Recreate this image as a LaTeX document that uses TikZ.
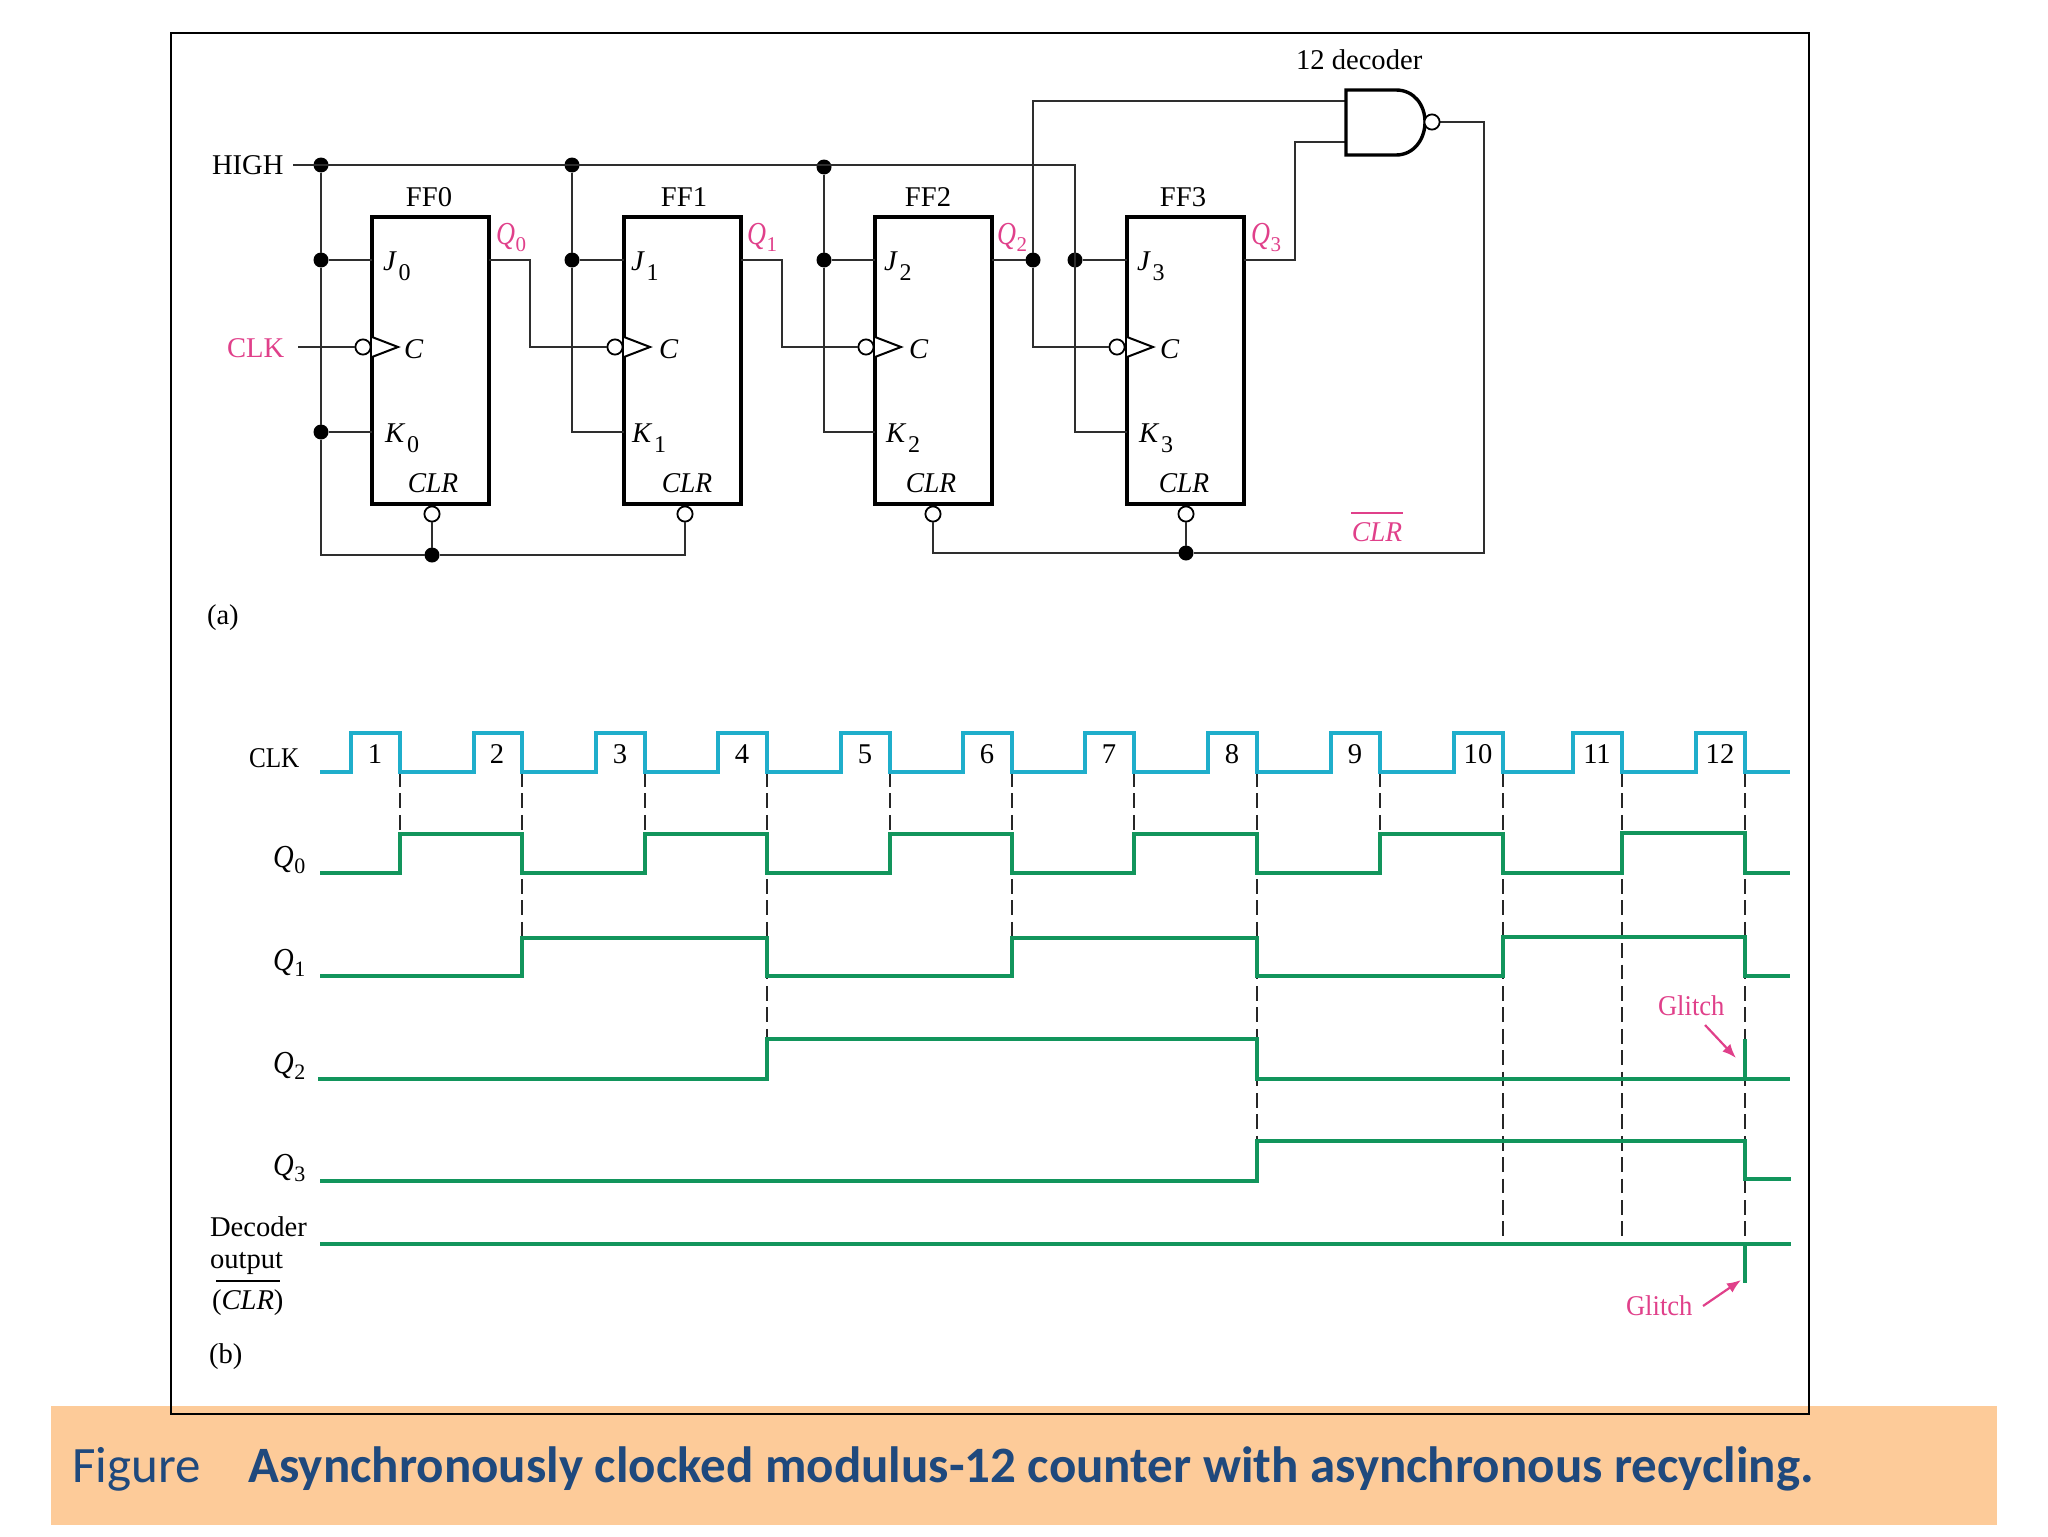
\documentclass[tikz,border=0pt]{standalone}
\usepackage{fontspec}
\setmainfont{Liberation Serif}
\newfontfamily\capfont{Carlito}
\usetikzlibrary{arrows.meta}
\definecolor{wire}{HTML}{2E2E2E}
\definecolor{pinkl}{HTML}{E0408A}
\definecolor{cyanw}{HTML}{1FAECB}
\definecolor{greenw}{HTML}{12955C}
\definecolor{bandc}{HTML}{FDCB99}
\definecolor{capc}{HTML}{1F497D}
\newcommand{\qsub}[2]{\scalebox{0.92}[1.12]{\itshape #1}\kern0.3pt\raisebox{-3.5pt}{\fontsize{10.5}{10.5}\selectfont #2}}
\newcommand{\tqsub}[2]{\scalebox{1}[1.12]{\itshape #1}\kern0.3pt\raisebox{-3.2pt}{\fontsize{11}{11}\selectfont #2}}
\newcommand{\jsub}[2]{{\itshape #1}\kern1.5pt\raisebox{-5pt}{\fontsize{12}{12}\selectfont #2}}
\tikzset{
  txt/.style={inner sep=0pt,outer sep=0pt,anchor=base west,font=\fontsize{14.3}{14.3}\selectfont,text=black},
  txtc/.style={txt,anchor=base},
  pnk/.style={text=pinkl},
  wr/.style={draw=wire,line width=1.05pt,line join=miter},
  ff/.style={draw=black,line width=1.7pt,rectangle,inner sep=0pt,outer sep=0pt,minimum width=58.5pt,minimum height=143.5pt,anchor=north west},
  dot/.style={circle,fill=black,inner sep=0pt,outer sep=0pt,minimum size=7.5pt},
  bub/.style={circle,draw=black,fill=white,line width=0.9pt,inner sep=0pt,outer sep=0pt,minimum size=7.6pt},
  clktri/.style={draw=black,line width=1pt,fill=white,line join=miter},
  ckw/.style={draw=cyanw,line width=1.7pt,line join=miter},
  gw/.style={draw=greenw,line width=1.6pt,line join=miter},
  dsh/.style={draw=black!85,line width=0.85pt,dash pattern=on 7.4pt off 3.3pt},
  parrow/.style={draw=pinkl,line width=1.1pt,-{Latex[length=7pt,width=5.5pt]}},
}
\begin{document}
\begin{tikzpicture}[x=0.5pt,y=-0.5pt]
\useasboundingbox (0,0) rectangle (2048,1536);
% caption band and frame
\fill[bandc] (51,1406) rectangle (1997,1525);
\draw[black,line width=1.2pt] (171,33) rectangle (1809,1414);
\node[inner sep=0pt,anchor=base west,font=\capfont\fontsize{25.5}{25.5}\selectfont,text=capc] (capa) at (72,1482) {Figure};
\node[inner sep=0pt,anchor=base west,font=\capfont\bfseries\fontsize{25.5}{25.5}\selectfont,text=capc] (capb) at (248,1482) {Asynchronously clocked modulus-12 counter with asynchronous recycling.};

% flip-flops
\node[ff] (ff0) at (372,217) {};
\node[ff] (ff1) at (624,217) {};
\node[ff] (ff2) at (875,217) {};
\node[ff] (ff3) at (1127,217) {};

% clock triangles
\foreach \i/\xx in {0/372,1/624,2/875,3/1127}{
  \coordinate (tb\i) at (\xx,337);
  \coordinate (tt\i) at (\xx+26,347);
  \coordinate (tc\i) at (\xx,357);
  \draw[clktri] (tb\i) -- (tt\i) -- (tc\i);
}

% junctions and bubbles
\coordinate (hs) at (293,165);
\node[dot] (d0) at (321,165) {};
\node[dot] (d1) at (572,165) {};
\node[dot] (d2) at (824,167) {};
\coordinate (hc) at (1075,165);
\node[dot] (j0) at (321,260) {};
\node[dot] (j1) at (572,260) {};
\node[dot] (j2) at (824,260) {};
\node[dot] (q2d) at (1033,260) {};
\node[dot] (j3) at (1075,260) {};
\node[dot] (k0) at (321,432) {};
\coordinate (k1) at (572,432);
\coordinate (k2) at (824,432);
\coordinate (k3) at (1075,432);
\node[dot] (cl) at (432,555) {};
\node[dot] (cr) at (1186,553) {};
\coordinate (bl) at (321,555);
\coordinate (bm) at (685,555);
\coordinate (bn) at (933,553);
\coordinate (brt) at (1484,553);
\coordinate (brr) at (1484,122);
\coordinate (cks) at (298,347);
\coordinate (q0o) at (530,260);
\coordinate (q0c) at (530,347);
\coordinate (q1o) at (782,260);
\coordinate (q1c) at (782,347);
\coordinate (q2c) at (1033,347);
\coordinate (q2t) at (1033,101);
\coordinate (ga) at (1346,101);
\coordinate (gb) at (1346,142);
\coordinate (q3o) at (1295,260);
\coordinate (q3t) at (1295,142);
\node[bub] (c0) at (363,347) {};
\node[bub] (c1) at (615,347) {};
\node[bub] (c2) at (866,347) {};
\node[bub] (c3) at (1117,347) {};
\node[bub] (r0) at (432,514) {};
\node[bub] (r1) at (685,514) {};
\node[bub] (r2) at (933,514) {};
\node[bub] (r3) at (1186,514) {};

% wires
\draw[wr] (hs) -- (hc) -- (k3) -- (ff3.west |- k3);
\draw[wr] (d0) -- (j0) -- (k0) -- (bl) -- (cl) -- (bm) -- (r1);
\draw[wr] (cl) -- (r0);
\draw[wr] (j0) -- (ff0.west |- j0) (k0) -- (ff0.west |- k0);
\draw[wr] (d1) -- (j1) -- (k1) -- (ff1.west |- k1) (j1) -- (ff1.west |- j1);
\draw[wr] (d2) -- (j2) -- (k2) -- (ff2.west |- k2) (j2) -- (ff2.west |- j2);
\draw[wr] (j3) -- (ff3.west |- j3);
\draw[wr] (cks) -- (c0);
\draw[wr] (ff0.east |- q0o) -- (q0o) -- (q0c) -- (c1);
\draw[wr] (ff1.east |- q1o) -- (q1o) -- (q1c) -- (c2);
\draw[wr] (ff2.east |- q2d) -- (q2d) -- (q2c) -- (c3);
\draw[wr] (q2d) -- (q2t) -- (ga);
\draw[wr] (ff3.east |- q3o) -- (q3o) -- (q3t) -- (gb);
\draw[wr] (r2) -- (bn) -- (cr) -- (brt) -- (brr) -- (1432,122);
\draw[wr] (cr) -- (r3);

% NAND gate
\draw[black,line width=1.7pt,fill=white,line join=miter] (1346,90) -- (1396,90) .. controls (1414,90) and (1425,105) .. (1425,122) .. controls (1425,139) and (1414,155) .. (1396,155) -- (1346,155) -- cycle;
\node[bub] (gbub) at (1432,122) {};

% upper labels
\node[txt] (lhigh) at (212,174) {HIGH};
\node[txt,pnk] (lclk) at (227,357) {CLK};
\node[txtc] (f0) at (429,206) {FF0};
\node[txtc] (f1) at (684,206) {FF1};
\node[txtc] (f2) at (928,206) {FF2};
\node[txtc] (f3) at (1183,206) {FF3};
\node[txt,pnk] (q0l) at (496,244) {\qsub{Q}{0}};
\node[txt,pnk] (q1l) at (747,244) {\qsub{Q}{1}};
\node[txt,pnk] (q2l) at (997,244) {\qsub{Q}{2}};
\node[txt,pnk] (q3l) at (1251,244) {\qsub{Q}{3}};
\node[txt] (lj0) at (383,270) {\jsub{J}{0}};
\node[txt] (lj1) at (631,270) {\jsub{J}{1}};
\node[txt] (lj2) at (884,270) {\jsub{J}{2}};
\node[txt] (lj3) at (1137,270) {\jsub{J}{3}};
\node[txt] (lk0) at (385,442) {\jsub{K}{0}};
\node[txt] (lk1) at (632,442) {\jsub{K}{1}};
\node[txt] (lk2) at (886,442) {\jsub{K}{2}};
\node[txt] (lk3) at (1139,442) {\jsub{K}{3}};
\node[txt] (lc0) at (404,358) {\itshape C};
\node[txt] (lc1) at (659,358) {\itshape C};
\node[txt] (lc2) at (909,358) {\itshape C};
\node[txt] (lc3) at (1160,358) {\itshape C};
\node[txtc] (lr0) at (433,492) {\scalebox{0.96}[1]{\itshape CLR}};
\node[txtc] (lr1) at (687,492) {\scalebox{0.96}[1]{\itshape CLR}};
\node[txtc] (lr2) at (931,492) {\scalebox{0.96}[1]{\itshape CLR}};
\node[txtc] (lr3) at (1184,492) {\scalebox{0.96}[1]{\itshape CLR}};
\node[txt] (ldec) at (1296,70) {12 decoder};
\node[txtc,pnk] (lclrb) at (1377,541) {\scalebox{0.96}[1]{\itshape CLR}};
\draw[pinkl,line width=1pt] (1351,513) -- (1403,513);
\node[txt] (la) at (207,624) {(a)};

% dashed guides
\foreach \i/\f/\e in {1/400/834,2/522/938,3/645/834,4/767/1039,5/890/834,6/1012/938,7/1134/834,8/1257/1141,9/1380/834,10/1503/1238,11/1622/1238,12/1745/1244}{
  \coordinate (ds\i) at (\f,772);
  \coordinate (de\i) at (\f,\e);
  \draw[dsh] (ds\i) -- (de\i);
  \node[txtc] (n\i) at (\f-25,763) {\i};
}

% waveforms
\draw[ckw] (320,772) -- (351,772) -- (351,733) -- (400,733) -- (400,772)
 -- (474,772) -- (474,733) -- (522,733) -- (522,772)
 -- (596,772) -- (596,733) -- (645,733) -- (645,772)
 -- (718,772) -- (718,733) -- (767,733) -- (767,772)
 -- (841,772) -- (841,733) -- (890,733) -- (890,772)
 -- (963,772) -- (963,733) -- (1012,733) -- (1012,772)
 -- (1085,772) -- (1085,733) -- (1134,733) -- (1134,772)
 -- (1208,772) -- (1208,733) -- (1257,733) -- (1257,772)
 -- (1331,772) -- (1331,733) -- (1380,733) -- (1380,772)
 -- (1454,772) -- (1454,733) -- (1503,733) -- (1503,772)
 -- (1573,772) -- (1573,733) -- (1622,733) -- (1622,772)
 -- (1696,772) -- (1696,733) -- (1745,733) -- (1745,772) -- (1790,772);
\draw[gw] (320,873) -- (400,873) -- (400,834) -- (522,834) -- (522,873) -- (645,873) -- (645,834) -- (767,834) -- (767,873) -- (890,873) -- (890,834) -- (1012,834) -- (1012,873) -- (1134,873) -- (1134,834) -- (1257,834) -- (1257,873) -- (1380,873) -- (1380,834) -- (1503,834) -- (1503,873) -- (1622,873) -- (1622,833) -- (1745,833) -- (1745,873) -- (1790,873);
\draw[gw] (320,976) -- (522,976) -- (522,938) -- (767,938) -- (767,976) -- (1012,976) -- (1012,938) -- (1257,938) -- (1257,976) -- (1503,976) -- (1503,937) -- (1745,937) -- (1745,976) -- (1790,976);
\draw[gw] (318,1079) -- (767,1079) -- (767,1039) -- (1257,1039) -- (1257,1079) -- (1790,1079);
\draw[gw] (1745,1039) -- (1745,1079);
\draw[gw] (320,1181) -- (1257,1181) -- (1257,1141) -- (1745,1141) -- (1745,1179) -- (1791,1179);
\draw[gw] (320,1244) -- (1791,1244);
\draw[gw] (1745,1244) -- (1745,1283);

% timing labels
\node[txt] (tclk) at (249,767) {\scalebox{0.88}[1]{CLK}};
\node[txt] (tq0) at (273,867) {\tqsub{Q}{0}};
\node[txt] (tq1) at (273,970) {\tqsub{Q}{1}};
\node[txt] (tq2) at (273,1073) {\tqsub{Q}{2}};
\node[txt] (tq3) at (273,1175) {\tqsub{Q}{3}};
\node[txt] (tdec) at (210,1236) {Decoder};
\node[txt] (tout) at (210,1268) {output};
\node[txt] (tclr) at (212,1309) {(\textit{CLR})};
\draw[black,line width=1pt] (216,1281) -- (280,1281);
\node[txt] (lb) at (209,1363) {(b)};

% glitch annotations
\node[txt,pnk] (g1) at (1658,1015) {\scalebox{0.93}[1]{Glitch}};
\node[txt,pnk] (g2) at (1626,1315) {\scalebox{0.93}[1]{Glitch}};
\coordinate (g1s) at (1705,1025);
\coordinate (g1e) at (1736,1058);
\coordinate (g2s) at (1703,1306);
\coordinate (g2e) at (1741,1280);
\draw[parrow] (g1s) -- (g1e);
\draw[parrow] (g2s) -- (g2e);
\end{tikzpicture}
\end{document}
